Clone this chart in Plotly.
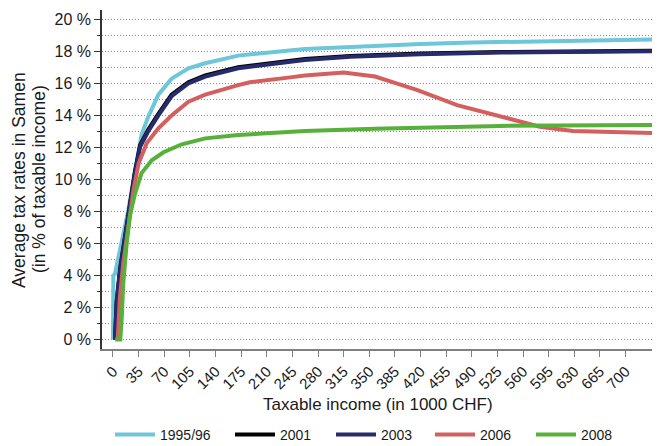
import plotly.graph_objects as go

# ---------------- data ----------------
series_names = ["1995/96", "2001", "2003", "2006", "2008"]

inc_1995 = [0, 0.5, 2.7, 12, 21, 28, 35, 39, 48, 62, 80, 103, 126, 171, 262, 350, 420, 490, 560, 630, 700, 737]
rate_1995 = [0, 4.0, 4.1, 6.0, 8.1, 10.0, 12.0, 12.8, 13.9, 15.3, 16.3, 16.95, 17.26, 17.74, 18.16, 18.35, 18.47, 18.56, 18.63, 18.68, 18.72, 18.75]

inc_2001 = [2.7, 5, 9.6, 16.4, 23, 30, 37, 48, 62, 80, 103, 126, 171, 262, 324, 420, 529, 630, 737]
rate_2001 = [0, 2.4, 4.4, 6.5, 8.6, 10.5, 12.15, 13.1, 14.1, 15.3, 16.08, 16.5, 17.02, 17.53, 17.72, 17.87, 17.96, 18.01, 18.04]

inc_2003 = [2.7, 5, 9.6, 16.4, 23, 30, 37, 48, 62, 80, 103, 126, 171, 262, 324, 420, 529, 630, 737]
rate_2003 = [0, 2.3, 4.3, 6.4, 8.5, 10.4, 12.05, 13.0, 14.0, 15.2, 16.0, 16.43, 16.95, 17.47, 17.67, 17.83, 17.93, 17.98, 18.02]

inc_2006 = [6.4, 9.6, 14, 21, 28, 35, 46, 62, 80, 103, 126, 171, 187, 242, 262, 315, 358, 385, 415, 470, 529, 583, 628, 674, 737]
rate_2006 = [0, 2.7, 4.76, 7.26, 9.34, 11.0, 12.26, 13.2, 14.0, 14.86, 15.3, 15.9, 16.08, 16.38, 16.5, 16.68, 16.43, 16.04, 15.6, 14.65, 13.93, 13.3, 13.03, 12.97, 12.9]

inc_2008 = [3, 10, 12, 14, 18.7, 23, 30, 39, 53, 69, 94, 126, 171, 262, 358, 529, 737]
rate_2008 = [0, 0, 1.4, 3.5, 6.0, 7.7, 9.1, 10.4, 11.2, 11.7, 12.2, 12.57, 12.78, 13.03, 13.17, 13.35, 13.4]

x_ticks = list(range(0, 701, 35))
y_ticks = list(range(0, 21, 2))

colors = ["#6ec6d9", "#000000", "#262b6e", "#d45f5f", "#56b03a"]

incomes = [inc_1995, inc_2001, inc_2003, inc_2006, inc_2008]
rates = [rate_1995, rate_2001, rate_2003, rate_2006, rate_2008]

FONT = "Liberation Sans, Arial, sans-serif"
OFF = 8                      # page body margin
W, H = 660 - OFF, 446 - OFF  # figure size inside the page

legend_ids = ["legend", "legend2", "legend3", "legend4", "legend5"]
legend_text_x = [160, 280, 381, 480, 581]   # where each legend label starts (page px)

fig = go.Figure()
for name, xs, ys, c, lid in zip(series_names, incomes, rates, colors, legend_ids):
    fig.add_trace(go.Scatter(
        x=xs, y=ys, mode="lines", name=name,
        line=dict(color=c, width=4),
        legend=lid,
    ))

legends = {}
for lid, tx in zip(legend_ids, legend_text_x):
    legends[lid] = dict(
        orientation="h", xref="container", yref="container",
        x=(tx - 50 - OFF) / W, xanchor="left",
        y=(H - (435 - OFF)) / H, yanchor="middle",
        itemwidth=40,
        font=dict(size=14, family=FONT, color="#1a1a1a"),
        bgcolor="rgba(0,0,0,0)",
    )

fig.update_layout(
    width=W, height=H,
    margin=dict(l=102 - OFF, r=3, t=10 - OFF, b=H - (349 - OFF), autoexpand=False),
    paper_bgcolor="white", plot_bgcolor="white",
    font=dict(family=FONT, color="#1a1a1a", size=16),
    showlegend=True,
    **legends,
    xaxis=dict(
        range=[-15, 743], tickvals=x_ticks, ticktext=[str(v) for v in x_ticks],
        tickangle=-45, ticks="outside", ticklen=6, tickcolor="#808080",
        showline=True, linecolor="#808080", linewidth=1.5,
        showgrid=False, zeroline=False, automargin=False,
        tickfont=dict(size=15, family=FONT, color="#1a1a1a"),
    ),
    yaxis=dict(
        range=[-0.59, 20.59], tickvals=y_ticks, ticktext=[f"{v} %" for v in y_ticks],
        ticks="outside", ticklen=6, tickcolor="#333333",
        showline=True, linecolor="#333333", linewidth=1.5,
        showgrid=True, gridcolor="#8c8c8c", griddash="1px,2px", gridwidth=1,
        zeroline=False, automargin=False,
        tickfont=dict(size=16, family=FONT, color="#1a1a1a"),
        minor=dict(dtick=1, tick0=0, ticks="outside", ticklen=3, tickcolor="#333333",
                   showgrid=True, gridcolor="#8c8c8c", griddash="1px,2px", gridwidth=1),
    ),
    annotations=[
        dict(text="Taxable income (in 1000 CHF)", xref="paper", yref="paper",
             x=(378 - 102) / 555, y=(349 - 404) / 339, xanchor="center", yanchor="middle",
             showarrow=False, font=dict(size=17, family=FONT, color="#1a1a1a")),
        dict(text="Average tax rates in Samen", xref="paper", yref="paper",
             x=(19 - 102) / 555, y=(349 - 180) / 339, xanchor="center", yanchor="middle",
             textangle=-90, showarrow=False, font=dict(size=17.5, family=FONT, color="#1a1a1a")),
        dict(text="(in % of taxable income)", xref="paper", yref="paper",
             x=(39 - 102) / 555, y=(349 - 179) / 339, xanchor="center", yanchor="middle",
             textangle=-90, showarrow=False, font=dict(size=17.5, family=FONT, color="#1a1a1a")),
    ],
)

fig.write_html("out.html")
